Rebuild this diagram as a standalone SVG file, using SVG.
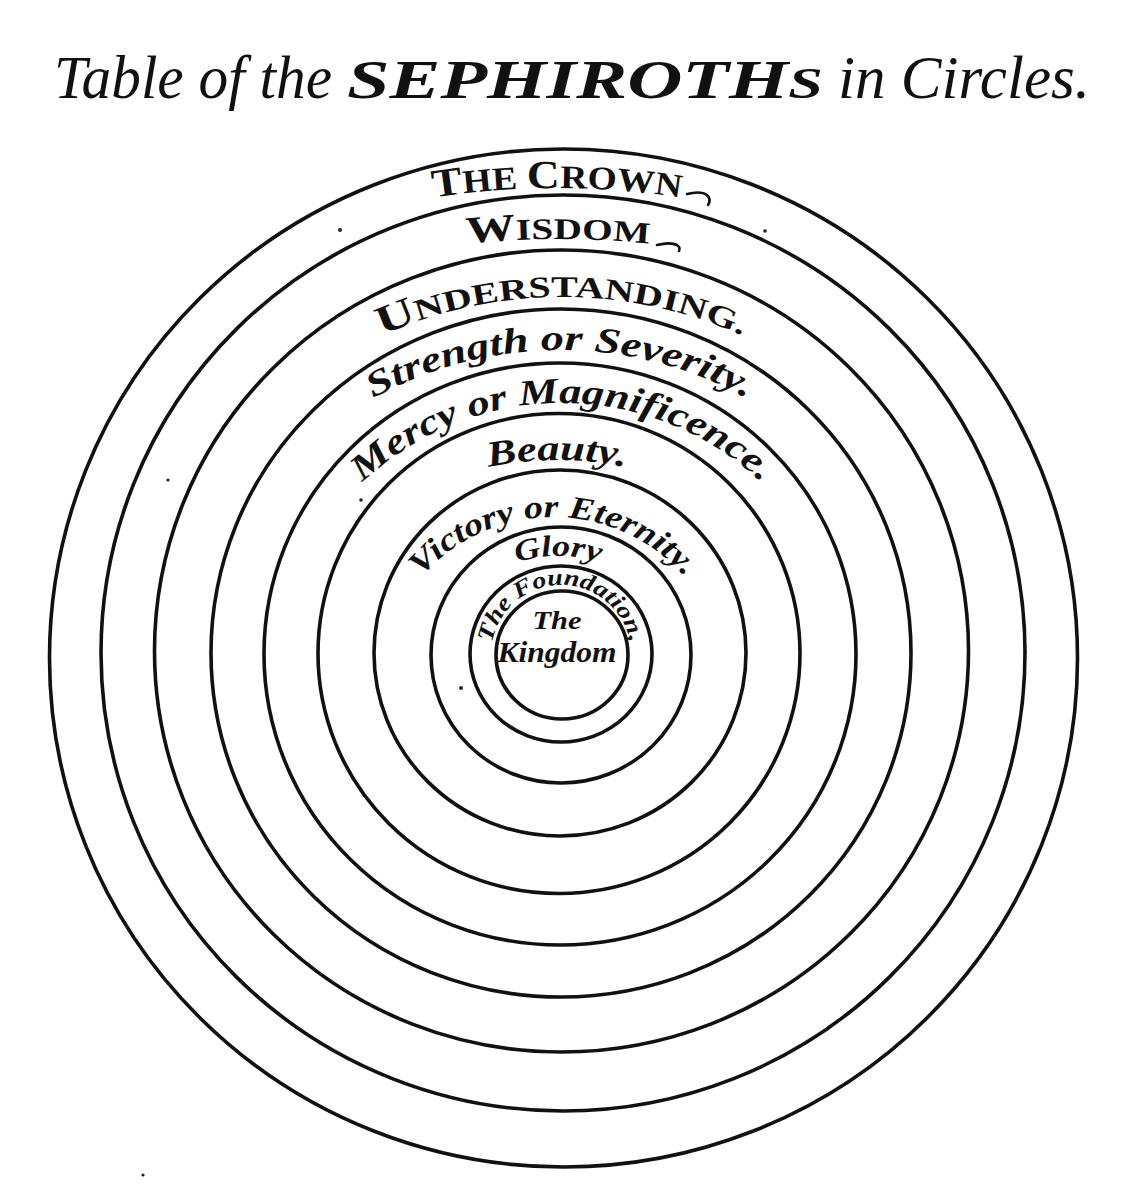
<svg xmlns="http://www.w3.org/2000/svg" width="1132" height="1186" viewBox="0 0 1132 1186">
<style>
.ring{fill:none;stroke:#111;stroke-width:3.6}
.caps{font-family:"Liberation Serif","Times New Roman",serif;font-weight:bold;fill:#111}
.ital{font-family:"Liberation Serif","Times New Roman",serif;font-style:italic;font-weight:bold;fill:#111}
.title{font-family:"Liberation Serif","Times New Roman",serif;font-style:italic;fill:#111}
.flour{fill:none;stroke:#111;stroke-width:2.6;stroke-linecap:round}
.dot{fill:#222}
</style>
<defs>
<path id="pCrown" d="M349.9 215.3 A800 800 0 0 1 764.1 215.3"/>
<path id="pWisdom" d="M401.7 252.7 A900 900 0 0 1 714.3 252.7"/>
<path id="pUnder" d="M309.6 376.6 A440 440 0 0 1 814.4 376.6"/>
<path id="pStrength" d="M312.5 440.1 A385 385 0 0 1 807.5 440.1"/>
<path id="pMercy" d="M310.9 548 A290 290 0 0 1 813.1 548"/>
<path id="pBeauty" d="M444.1 479.9 A330 330 0 0 1 669.9 479.9"/>
<path id="pVictory" d="M388.6 632.1 A175 175 0 0 1 717.4 632.1"/>
<path id="pGlory" d="M493 573.4 A130 130 0 0 1 623 573.4"/>
<path id="pFound" d="M492.06 642.84 A70 70 0 0 1 631 655"/>
</defs>
<rect width="1132" height="1186" fill="#fff"/>

<g id="title">
<text class="title" x="54" y="98" font-size="62" textLength="278" lengthAdjust="spacingAndGlyphs">Table of the</text>
<text class="caps" x="347" y="98" font-size="54" font-style="italic" textLength="476" lengthAdjust="spacingAndGlyphs">SEPHIROTH<tspan font-size="44">S</tspan></text>
<text class="title" x="838" y="98" font-size="62" textLength="252" lengthAdjust="spacingAndGlyphs">in Circles.</text>
</g>

<g id="crown">
<ellipse class="ring" cx="563.5" cy="658" rx="514" ry="509"/>
<text class="caps" font-size="33"><textPath href="#pCrown" startOffset="50%" text-anchor="middle" textLength="248" lengthAdjust="spacingAndGlyphs"><tspan font-size="40">T</tspan>HE <tspan font-size="40">C</tspan>ROWN</textPath></text>
<path class="flour" d="M687 194 C695 192 703 192 707 195 C710 198 710 202 708 205"/>
</g>

<g id="wisdom">
<ellipse class="ring" cx="563" cy="653" rx="462" ry="458"/>
<text class="caps" font-size="30"><textPath href="#pWisdom" startOffset="50%" text-anchor="middle" textLength="183" lengthAdjust="spacingAndGlyphs"><tspan font-size="38">W</tspan>ISDOM</textPath></text>
<path class="flour" d="M657 245 C665 243 673 243 677 245 C680 247 680 249 679 251"/>
</g>

<g id="understanding">
<ellipse class="ring" cx="561.5" cy="651" rx="407" ry="401"/>
<text class="caps" font-size="30"><textPath href="#pUnder" startOffset="50%" text-anchor="middle" textLength="371" lengthAdjust="spacingAndGlyphs"><tspan font-size="40">U</tspan>NDERSTANDING.</textPath></text>
</g>

<g id="strength">
<ellipse class="ring" cx="561" cy="653" rx="350" ry="344"/>
<text class="ital" font-size="36"><textPath href="#pStrength" startOffset="50%" text-anchor="middle" textLength="390" lengthAdjust="spacingAndGlyphs">Strength or Severity.</textPath></text>
</g>

<g id="mercy">
<ellipse class="ring" cx="560" cy="654" rx="296" ry="291"/>
<text class="ital" font-size="36"><textPath href="#pMercy" startOffset="50%" text-anchor="middle" textLength="440" lengthAdjust="spacingAndGlyphs">Mercy or Magnificence.</textPath></text>
</g>

<g id="beauty">
<ellipse class="ring" cx="559" cy="653.5" rx="241" ry="240"/>
<text class="ital" font-size="36"><textPath href="#pBeauty" startOffset="50%" text-anchor="middle" textLength="138" lengthAdjust="spacingAndGlyphs">Beauty.</textPath></text>
</g>

<g id="victory">
<ellipse class="ring" cx="560" cy="653" rx="186" ry="183"/>
<text class="ital" font-size="32"><textPath href="#pVictory" startOffset="50%" text-anchor="middle" textLength="298" lengthAdjust="spacingAndGlyphs">Victory or Eternity.</textPath></text>
</g>

<g id="glory">
<ellipse class="ring" cx="561" cy="655" rx="130" ry="128"/>
<text class="ital" font-size="30"><textPath href="#pGlory" startOffset="50%" text-anchor="middle" textLength="84" lengthAdjust="spacingAndGlyphs">Glory</textPath></text>
</g>

<g id="foundation">
<ellipse class="ring" cx="561" cy="654" rx="91" ry="88"/>
<text class="ital" font-size="23"><textPath href="#pFound" startOffset="0" textLength="195" lengthAdjust="spacingAndGlyphs">The Foundation,</textPath></text>
</g>

<g id="kingdom">
<ellipse class="ring" cx="562" cy="655" rx="66" ry="64"/>
<text class="ital" x="557" y="629" font-size="25" text-anchor="middle" textLength="49" lengthAdjust="spacingAndGlyphs">The</text>
<text class="ital" x="557" y="662" font-size="30" text-anchor="middle" textLength="119" lengthAdjust="spacingAndGlyphs">Kingdom</text>
</g>

<g id="connectors"></g>

<g id="specks">
<circle class="dot" cx="340" cy="230" r="2"/>
<circle class="dot" cx="765" cy="231" r="1.8"/>
<circle class="dot" cx="361" cy="500" r="1.8"/>
<circle class="dot" cx="461" cy="688" r="2"/>
<circle class="dot" cx="168" cy="480" r="1.6"/>
<circle class="dot" cx="143" cy="1175" r="1.6"/>
</g>
</svg>
